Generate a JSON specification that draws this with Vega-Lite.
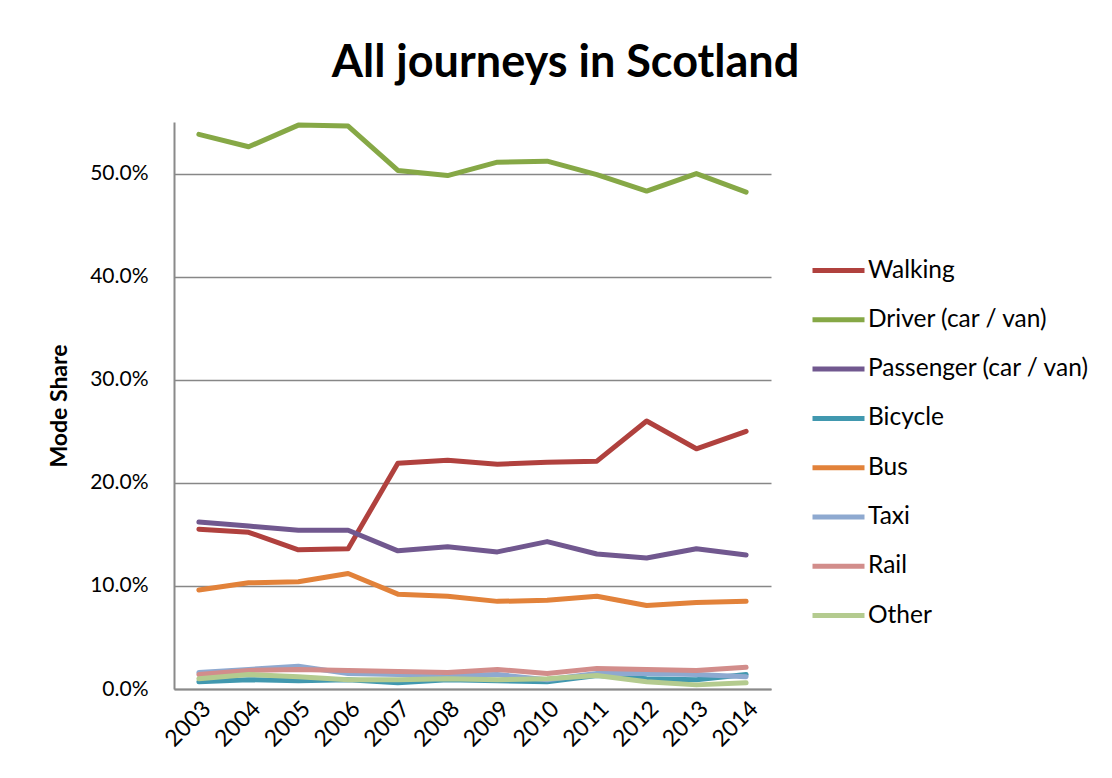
{
  "$schema": "https://vega.github.io/schema/vega-lite/v6.json",
  "width": 597,
  "height": 567,
  "autosize": {"type": "none"},
  "padding": {"left": 174, "top": 122, "right": 341, "bottom": 89},
  "background": "white",
  "title": {"text": "All journeys in Scotland", "font": "Lato", "fontSize": 45, "fontWeight": "bold", "color": "#000000", "anchor": "middle", "dx": 93, "offset": 36},
  "data": {"values": [
    {"year": "2003", "mode": "Walking", "share": 0.155},
    {"year": "2004", "mode": "Walking", "share": 0.152},
    {"year": "2005", "mode": "Walking", "share": 0.135},
    {"year": "2006", "mode": "Walking", "share": 0.136},
    {"year": "2007", "mode": "Walking", "share": 0.219},
    {"year": "2008", "mode": "Walking", "share": 0.222},
    {"year": "2009", "mode": "Walking", "share": 0.218},
    {"year": "2010", "mode": "Walking", "share": 0.220},
    {"year": "2011", "mode": "Walking", "share": 0.221},
    {"year": "2012", "mode": "Walking", "share": 0.260},
    {"year": "2013", "mode": "Walking", "share": 0.233},
    {"year": "2014", "mode": "Walking", "share": 0.250},
    {"year": "2003", "mode": "Driver (car / van)", "share": 0.538},
    {"year": "2004", "mode": "Driver (car / van)", "share": 0.526},
    {"year": "2005", "mode": "Driver (car / van)", "share": 0.547},
    {"year": "2006", "mode": "Driver (car / van)", "share": 0.546},
    {"year": "2007", "mode": "Driver (car / van)", "share": 0.503},
    {"year": "2008", "mode": "Driver (car / van)", "share": 0.498},
    {"year": "2009", "mode": "Driver (car / van)", "share": 0.511},
    {"year": "2010", "mode": "Driver (car / van)", "share": 0.512},
    {"year": "2011", "mode": "Driver (car / van)", "share": 0.499},
    {"year": "2012", "mode": "Driver (car / van)", "share": 0.483},
    {"year": "2013", "mode": "Driver (car / van)", "share": 0.500},
    {"year": "2014", "mode": "Driver (car / van)", "share": 0.482},
    {"year": "2003", "mode": "Passenger (car / van)", "share": 0.162},
    {"year": "2004", "mode": "Passenger (car / van)", "share": 0.158},
    {"year": "2005", "mode": "Passenger (car / van)", "share": 0.154},
    {"year": "2006", "mode": "Passenger (car / van)", "share": 0.154},
    {"year": "2007", "mode": "Passenger (car / van)", "share": 0.134},
    {"year": "2008", "mode": "Passenger (car / van)", "share": 0.138},
    {"year": "2009", "mode": "Passenger (car / van)", "share": 0.133},
    {"year": "2010", "mode": "Passenger (car / van)", "share": 0.143},
    {"year": "2011", "mode": "Passenger (car / van)", "share": 0.131},
    {"year": "2012", "mode": "Passenger (car / van)", "share": 0.127},
    {"year": "2013", "mode": "Passenger (car / van)", "share": 0.136},
    {"year": "2014", "mode": "Passenger (car / van)", "share": 0.130},
    {"year": "2003", "mode": "Bicycle", "share": 0.007},
    {"year": "2004", "mode": "Bicycle", "share": 0.009},
    {"year": "2005", "mode": "Bicycle", "share": 0.008},
    {"year": "2006", "mode": "Bicycle", "share": 0.009},
    {"year": "2007", "mode": "Bicycle", "share": 0.006},
    {"year": "2008", "mode": "Bicycle", "share": 0.009},
    {"year": "2009", "mode": "Bicycle", "share": 0.008},
    {"year": "2010", "mode": "Bicycle", "share": 0.007},
    {"year": "2011", "mode": "Bicycle", "share": 0.013},
    {"year": "2012", "mode": "Bicycle", "share": 0.010},
    {"year": "2013", "mode": "Bicycle", "share": 0.009},
    {"year": "2014", "mode": "Bicycle", "share": 0.014},
    {"year": "2003", "mode": "Bus", "share": 0.096},
    {"year": "2004", "mode": "Bus", "share": 0.103},
    {"year": "2005", "mode": "Bus", "share": 0.104},
    {"year": "2006", "mode": "Bus", "share": 0.112},
    {"year": "2007", "mode": "Bus", "share": 0.092},
    {"year": "2008", "mode": "Bus", "share": 0.090},
    {"year": "2009", "mode": "Bus", "share": 0.085},
    {"year": "2010", "mode": "Bus", "share": 0.086},
    {"year": "2011", "mode": "Bus", "share": 0.090},
    {"year": "2012", "mode": "Bus", "share": 0.081},
    {"year": "2013", "mode": "Bus", "share": 0.084},
    {"year": "2014", "mode": "Bus", "share": 0.085},
    {"year": "2003", "mode": "Taxi", "share": 0.016},
    {"year": "2004", "mode": "Taxi", "share": 0.019},
    {"year": "2005", "mode": "Taxi", "share": 0.022},
    {"year": "2006", "mode": "Taxi", "share": 0.015},
    {"year": "2007", "mode": "Taxi", "share": 0.014},
    {"year": "2008", "mode": "Taxi", "share": 0.013},
    {"year": "2009", "mode": "Taxi", "share": 0.014},
    {"year": "2010", "mode": "Taxi", "share": 0.009},
    {"year": "2011", "mode": "Taxi", "share": 0.015},
    {"year": "2012", "mode": "Taxi", "share": 0.015},
    {"year": "2013", "mode": "Taxi", "share": 0.014},
    {"year": "2014", "mode": "Taxi", "share": 0.012},
    {"year": "2003", "mode": "Rail", "share": 0.014},
    {"year": "2004", "mode": "Rail", "share": 0.018},
    {"year": "2005", "mode": "Rail", "share": 0.019},
    {"year": "2006", "mode": "Rail", "share": 0.018},
    {"year": "2007", "mode": "Rail", "share": 0.017},
    {"year": "2008", "mode": "Rail", "share": 0.016},
    {"year": "2009", "mode": "Rail", "share": 0.019},
    {"year": "2010", "mode": "Rail", "share": 0.015},
    {"year": "2011", "mode": "Rail", "share": 0.020},
    {"year": "2012", "mode": "Rail", "share": 0.019},
    {"year": "2013", "mode": "Rail", "share": 0.018},
    {"year": "2014", "mode": "Rail", "share": 0.021},
    {"year": "2003", "mode": "Other", "share": 0.010},
    {"year": "2004", "mode": "Other", "share": 0.014},
    {"year": "2005", "mode": "Other", "share": 0.012},
    {"year": "2006", "mode": "Other", "share": 0.009},
    {"year": "2007", "mode": "Other", "share": 0.009},
    {"year": "2008", "mode": "Other", "share": 0.010},
    {"year": "2009", "mode": "Other", "share": 0.009},
    {"year": "2010", "mode": "Other", "share": 0.010},
    {"year": "2011", "mode": "Other", "share": 0.013},
    {"year": "2012", "mode": "Other", "share": 0.007},
    {"year": "2013", "mode": "Other", "share": 0.004},
    {"year": "2014", "mode": "Other", "share": 0.006}
  ]},
  "mark": {"type": "line", "strokeWidth": 5, "strokeCap": "round", "strokeJoin": "round"},
  "encoding": {
    "x": {
      "field": "year", "type": "ordinal",
      "scale": {"type": "point", "padding": 0.5},
      "axis": {"title": null, "labelAngle": -45, "labelFont": "Lato", "labelFontSize": 23, "labelColor": "#000000", "labelPadding": 8, "ticks": false, "grid": false, "domain": true, "domainColor": "#8a8a8a", "domainWidth": 2}
    },
    "y": {
      "field": "share", "type": "quantitative",
      "scale": {"domain": [0, 0.55], "nice": false},
      "axis": {"title": "Mode Share", "titleFont": "Lato", "titleFontSize": 23, "titleFontWeight": "bold", "titleColor": "#000000", "titlePadding": 18, "values": [0, 0.1, 0.2, 0.3, 0.4, 0.5], "format": ".1%", "labelFont": "Lato", "labelFontSize": 21, "labelColor": "#000000", "labelPadding": 26, "ticks": false, "grid": true, "gridColor": "#878787", "gridWidth": 1.5, "domain": true, "domainColor": "#8a8a8a", "domainWidth": 2}
    },
    "color": {
      "field": "mode", "type": "nominal",
      "scale": {
        "domain": ["Walking", "Driver (car / van)", "Passenger (car / van)", "Bicycle", "Bus", "Taxi", "Rail", "Other"],
        "range": ["#B0413E", "#86A846", "#71588F", "#4198AF", "#E2823A", "#8EA9D0", "#D28D8B", "#B4CB8F"]
      },
      "legend": {
        "title": null, "orient": "none", "legendX": 636, "legendY": 133,
        "symbolType": "M-1,0H3", "symbolSize": 676, "symbolStrokeWidth": 5,
        "labelFont": "Lato", "labelFontSize": 24.5, "labelColor": "#000000", "labelOffset": 27,
        "rowPadding": 22.3, "labelLimit": 400
      }
    }
  },
  "config": {"view": {"stroke": null}}
}
